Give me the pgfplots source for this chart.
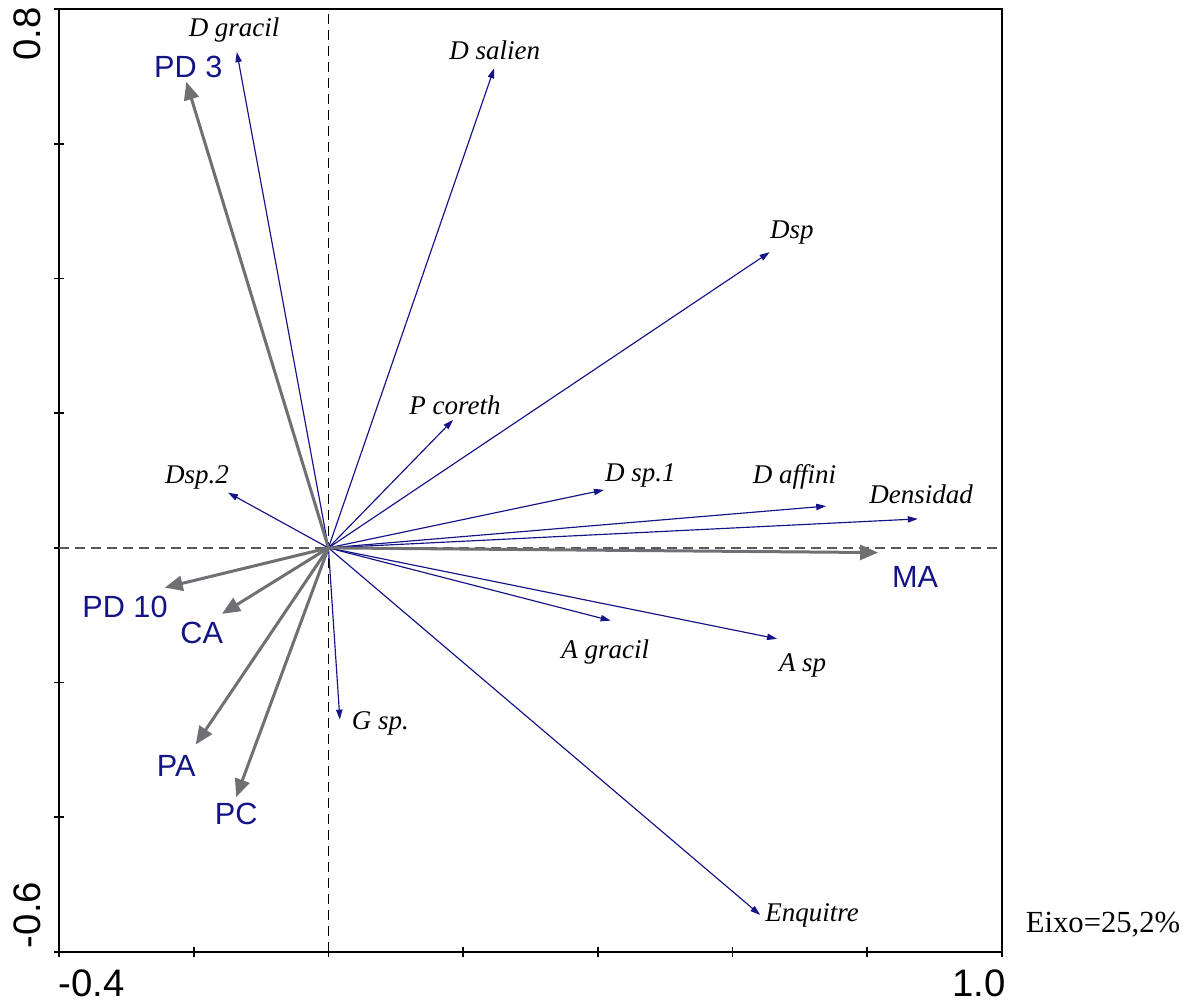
\documentclass[border=0pt]{standalone}
\usepackage{fontspec}
\setmainfont{Liberation Serif}
\setsansfont{Liberation Sans}
\usepackage{pgfplots}
\pgfplotsset{compat=1.18}
\usetikzlibrary{arrows.meta}
\definecolor{navyb}{RGB}{20,20,135}
\definecolor{arrgray}{RGB}{112,112,116}
\definecolor{dashgray}{RGB}{90,90,90}
\tikzset{
  sp/.style={navyb, line width=0.35pt, -{Triangle[length=3pt,width=1.9pt]}},
  ev/.style={arrgray, line width=0.9pt, -{Triangle[length=5.4pt,width=4.5pt]}},
  spl/.style={font=\itshape\fontsize{8.1}{9}\selectfont, text=black, inner sep=0pt},
  evl/.style={font=\sffamily\fontsize{9.2}{10}\selectfont, text=navyb, inner sep=0pt},
  tl/.style={font=\sffamily\fontsize{11.5}{12}\selectfont, inner sep=0pt},
}
\begin{document}
\begin{tikzpicture}
\begin{axis}[name=ax,
  scale only axis, width=282.9pt, height=282.9pt,
  xmin=-0.4, xmax=1.0, ymin=-0.6, ymax=0.8,
  xtick={-0.4,-0.2,0,0.2,0.4,0.6,0.8,1.0},
  ytick={-0.6,-0.4,-0.2,0,0.2,0.4,0.6,0.8},
  xticklabels={}, yticklabels={},
  xtick pos=bottom, ytick pos=left,
  tick align=center, major tick length=3pt,
  tick style={line width=0.5pt, black},
  axis line style={line width=0.6pt},
  clip=false,
]
% reference lines
\addplot[black, line width=0.45pt, dash pattern=on 3pt off 1.8pt] coordinates {(0,-0.6) (0,0.8)};
\addplot[dashgray, line width=0.45pt, dash pattern=on 3pt off 1.8pt] coordinates {(-0.4,0) (1.0,0)};
% species arrows
\addplot[sp] coordinates {(0,0) (-0.136,0.736)};
\addplot[sp] coordinates {(0,0) (0.246,0.712)};
\addplot[sp] coordinates {(0,0) (0.655,0.439)};
\addplot[sp] coordinates {(0,0) (0.185,0.190)};
\addplot[sp] coordinates {(0,0) (0.409,0.086)};
\addplot[sp] coordinates {(0,0) (0.739,0.062)};
\addplot[sp] coordinates {(0,0) (0.875,0.043)};
\addplot[sp] coordinates {(0,0) (-0.149,0.082)};
\addplot[sp] coordinates {(0,0) (0.419,-0.108)};
\addplot[sp] coordinates {(0,0) (0.666,-0.135)};
\addplot[sp] coordinates {(0,0) (0.017,-0.255)};
\addplot[sp] coordinates {(0,0) (0.641,-0.545)};
% environmental arrows
\addplot[ev] coordinates {(0,0) (-0.211,0.692)};
\addplot[ev] coordinates {(0,0) (0.816,-0.007)};
\addplot[ev] coordinates {(0,0) (-0.243,-0.059)};
\addplot[ev] coordinates {(0,0) (-0.158,-0.098)};
\addplot[ev] coordinates {(0,0) (-0.197,-0.292)};
\addplot[ev] coordinates {(0,0) (-0.137,-0.370)};
% species labels
\node[spl] at (axis cs:-0.140,0.769) {D gracil};
\node[spl] at (axis cs:0.247,0.739) {D salien};
\node[spl] at (axis cs:0.688,0.468) {Dsp};
\node[spl] at (axis cs:0.188,0.211) {P coreth};
\node[spl] at (axis cs:0.463,0.107) {D sp.1};
\node[spl] at (axis cs:0.692,0.105) {D affini};
\node[spl] at (axis cs:0.880,0.080) {Densidad};
\node[spl] at (axis cs:-0.195,0.105) {Dsp.2};
\node[spl] at (axis cs:0.411,-0.154) {A gracil};
\node[spl] at (axis cs:0.704,-0.174) {A sp};
\node[spl] at (axis cs:0.077,-0.261) {G sp.};
\node[spl] at (axis cs:0.718,-0.546) {Enquitre};
% environmental labels
\node[evl] at (axis cs:-0.208,0.714) {PD 3};
\node[evl] at (axis cs:0.871,-0.043) {MA};
\node[evl] at (axis cs:-0.302,-0.088) {PD 10};
\node[evl] at (axis cs:-0.188,-0.126) {CA};
\node[evl] at (axis cs:-0.226,-0.324) {PA};
\node[evl] at (axis cs:-0.137,-0.395) {PC};
% tick labels
\node[tl] at (axis cs:-0.352,-0.646) {-0.4};
\node[tl] at (axis cs:0.966,-0.646) {1.0};
\node[tl, rotate=90] at (axis cs:-0.447,0.763) {0.8};
\node[tl, rotate=90] at (axis cs:-0.447,-0.545) {-0.6};
% axis note
\node[font=\fontsize{9.2}{10}\selectfont, inner sep=0pt] at (axis cs:1.150,-0.559) {Eixo=25,2\%};
\end{axis}
\pgfresetboundingbox
\path ([shift={(-17.7pt,-15.3pt)}]ax.south west) rectangle ([shift={(59.7pt,2.7pt)}]ax.north east);
\end{tikzpicture}
\end{document}
